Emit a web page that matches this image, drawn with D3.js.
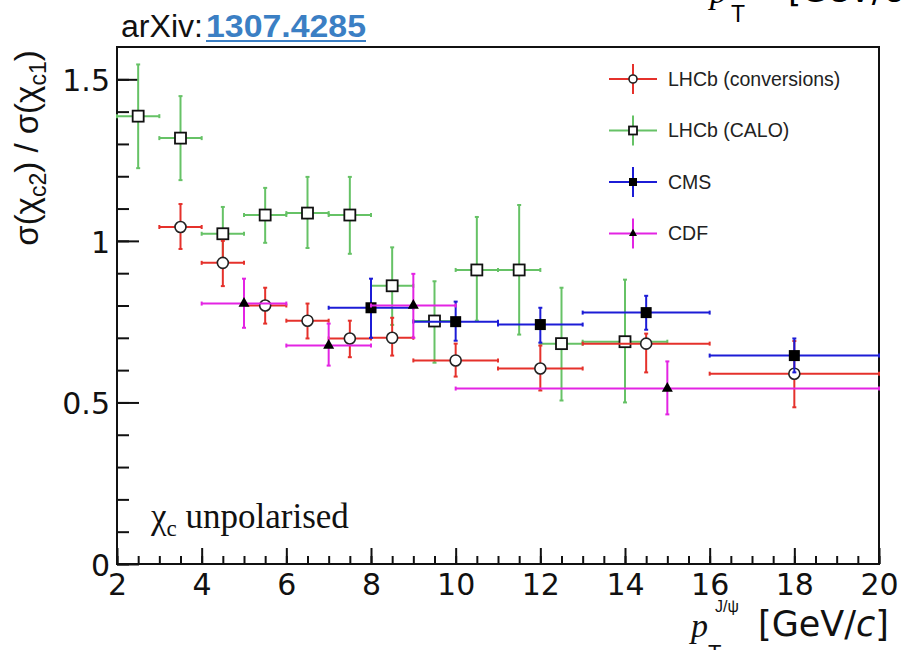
<!DOCTYPE html>
<html>
<head>
<meta charset="utf-8">
<script src="https://d3js.org/d3.v7.min.js"></script>
<style>
  body { margin: 0; background: #fff; }
  svg { display: block; font-family: "Liberation Sans", Arial, sans-serif; }
</style>
</head>
<body>
<svg id="chart" width="903" height="650"></svg>
<script>
  // LHCb conversions (red, open circles)
  const convX   = [3.5, 4.5, 5.5, 6.5, 7.5, 8.5, 10, 12, 14.5, 18];
  const convXLo = [3, 4, 5, 6, 7, 8, 9, 11, 13, 16];
  const convXHi = [4, 5, 6, 7, 8, 9, 11, 13, 16, 20];
  const convY   = [1.043, 0.932, 0.80, 0.753, 0.698, 0.70, 0.630, 0.605, 0.682, 0.589];
  const convYLo = [0.975, 0.86, 0.744, 0.698, 0.64, 0.645, 0.58, 0.537, 0.593, 0.485];
  const convYHi = [1.114, 1.0, 0.855, 0.806, 0.753, 0.762, 0.682, 0.676, 0.713, 0.69];

  // LHCb CALO (green, open squares)
  const caloX   = [2.5, 3.5, 4.5, 5.5, 6.5, 7.5, 8.5, 9.5, 10.5, 11.5, 12.5, 14];
  const caloXLo = [2, 3, 4, 5, 6, 7, 8, 9, 10, 11, 12, 13];
  const caloXHi = [3, 4, 5, 6, 7, 8, 9, 10, 11, 12, 13, 15];
  const caloY   = [1.386, 1.318, 1.022, 1.080, 1.086, 1.080, 0.861, 0.752, 0.910, 0.910, 0.682, 0.688];
  const caloYLo = [1.225, 1.188, 0.94, 0.994, 0.978, 0.96, 0.74, 0.623, 0.753, 0.710, 0.506, 0.50];
  const caloYHi = [1.546, 1.448, 1.105, 1.164, 1.198, 1.198, 0.98, 0.875, 1.074, 1.111, 0.855, 0.880];

  // CMS (blue, filled squares)
  const cmsX   = [8, 10, 12, 14.5, 18];
  const cmsXLo = [7, 9, 11, 13, 16];
  const cmsXHi = [9, 11, 13, 16, 20];
  const cmsY   = [0.793, 0.750, 0.741, 0.778, 0.645];
  const cmsYLo = [0.70, 0.691, 0.685, 0.725, 0.593];
  const cmsYHi = [0.883, 0.812, 0.793, 0.830, 0.698];

  // CDF (magenta, filled triangles)
  const cdfX   = [5, 7, 9, 15];
  const cdfXLo = [4, 6, 8, 10];
  const cdfXHi = [6, 8, 10, 20];
  const cdfY   = [0.806, 0.676, 0.80, 0.543];
  const cdfYLo = [0.731, 0.614, 0.70, 0.463];
  const cdfYHi = [0.883, 0.744, 0.898, 0.627];

  const xMajor = [2, 4, 6, 8, 10, 12, 14, 16, 18, 20];
  const yMajor = [0, 0.5, 1, 1.5];

  const legendNames = ["LHCb (conversions)", "LHCb (CALO)", "CMS", "CDF"];

  function rows(x, xl, xh, y, yl, yh) {
    return x.map((v, i) => ({ x: v, xl: xl[i], xh: xh[i], y: y[i], yl: yl[i], yh: yh[i] }));
  }

  const series = [
    { name: legendNames[1], color: "#66c266", marker: "openSquare", data: rows(caloX, caloXLo, caloXHi, caloY, caloYLo, caloYHi) },
    { name: legendNames[0], color: "#e5312b", marker: "openCircle", data: rows(convX, convXLo, convXHi, convY, convYLo, convYHi) },
    { name: legendNames[2], color: "#1c1cd6", marker: "fillSquare", data: rows(cmsX, cmsXLo, cmsXHi, cmsY, cmsYLo, cmsYHi) },
    { name: legendNames[3], color: "#e324e3", marker: "triangle", data: rows(cdfX, cdfXLo, cdfXHi, cdfY, cdfYLo, cdfYHi) }
  ];

  const padL = 117, padR = 879, padT = 47, padB = 564;
  const serif = "'Liberation Serif', 'DejaVu Serif', serif";
  const wide = "'DejaVu Sans', sans-serif";

  const x = d3.scaleLinear().domain([2, 20]).range([padL, padR]);
  const y = d3.scaleLinear().domain([0, 1.6]).range([padB, padT]);

  const svg = d3.select("#chart");

  // header bits (cut at top of page)
  svg.append("text").attr("x", 121).attr("y", 37).style("font-size", "31px")
    .attr("textLength", 82).attr("lengthAdjust", "spacingAndGlyphs")
    .attr("fill", "#111").text("arXiv:");
  svg.append("text").attr("x", 206).attr("y", 37).style("font-size", "31px")
    .attr("textLength", 160).attr("lengthAdjust", "spacingAndGlyphs")
    .style("font-weight", "bold").attr("fill", "#3b7fc4").text("1307.4285");
  svg.append("line").attr("x1", 206).attr("x2", 366).attr("y1", 41).attr("y2", 41)
    .attr("stroke", "#3b7fc4").attr("stroke-width", 2);
  svg.append("text").attr("x", 710).attr("y", 3).style("font-size", "34px")
    .style("font-style", "italic").style("font-family", serif).text("p");
  svg.append("text").attr("x", 731).attr("y", 22).style("font-size", "23px").text("T");
  svg.append("text").attr("x", 788).attr("y", 2).style("font-size", "34px").style("font-family", wide).text("[GeV/c]");

  // axes
  svg.append("g").attr("transform", `translate(0,${padB})`)
    .call(d3.axisBottom(x).tickValues(d3.range(2, 20.01, 0.5)).tickSize(-8).tickFormat(""));
  svg.append("g").attr("transform", `translate(0,${padB})`)
    .call(d3.axisBottom(x).tickValues(xMajor).tickSize(-16).tickPadding(10).tickFormat(d3.format("d")));

  svg.append("g").attr("transform", `translate(${padL},0)`)
    .call(d3.axisLeft(y).tickValues(d3.range(0, 1.55, 0.1)).tickSize(-12).tickFormat(""));
  const gyMaj = svg.append("g").attr("transform", `translate(${padL},0)`)
    .call(d3.axisLeft(y).tickValues(yMajor).tickSize(-22).tickPadding(7).tickFormat(d => String(d)));

  svg.selectAll(".domain").remove();
  svg.selectAll(".tick line").attr("stroke", "#111").attr("stroke-width", 2);
  svg.selectAll(".tick text").style("font-size", "30px").attr("fill", "#111")
    .style("font-family", wide);
  gyMaj.selectAll(".tick text").attr("dy", "0.38em");

  // frame
  svg.append("rect").attr("x", padL).attr("y", padT)
    .attr("width", padR - padL).attr("height", padB - padT)
    .attr("fill", "none").attr("stroke", "#111").attr("stroke-width", 2);

  // axis titles
  const yl = svg.append("text")
    .attr("transform", "translate(38,148) rotate(-90)")
    .attr("text-anchor", "middle").style("font-size", "33px").attr("fill", "#111");
  yl.append("tspan").text("σ(χ");
  yl.append("tspan").style("font-size", "23px").attr("dy", 8).text("c2");
  yl.append("tspan").attr("dy", -8).text(") / σ(χ");
  yl.append("tspan").style("font-size", "23px").attr("dy", 8).text("c1");
  yl.append("tspan").attr("dy", -8).text(")");

  svg.append("text").attr("x", 691).attr("y", 637).style("font-size", "34px")
    .style("font-style", "italic").style("font-family", serif).attr("fill", "#111").text("p");
  svg.append("text").attr("x", 715).attr("y", 612).style("font-size", "16px")
    .attr("fill", "#111").text("J/ψ");
  svg.append("text").attr("x", 708).attr("y", 660).style("font-size", "22px")
    .attr("fill", "#111").text("T");
  const xl = svg.append("text").attr("x", 758).attr("y", 636)
    .style("font-size", "35px").style("font-family", wide).attr("fill", "#111");
  xl.append("tspan").text("[GeV/");
  xl.append("tspan").style("font-style", "italic").text("c");
  xl.append("tspan").text("]");

  // annotation
  const ann = svg.append("text").attr("x", 151).attr("y", 528)
    .style("font-family", serif).style("font-size", "35px").attr("fill", "#111");
  ann.append("tspan").text("χ");
  ann.append("tspan").style("font-size", "23px").attr("dy", 8).text("c");
  ann.append("tspan").attr("dy", -8).text(" unpolarised");

  // marker drawing
  function drawMarker(g, type, cx, cy, s) {
    if (type === "openCircle") {
      g.append("circle").attr("cx", cx).attr("cy", cy).attr("r", s / 2)
        .attr("fill", "#fff").attr("stroke", "#222").attr("stroke-width", 1.6);
    } else if (type === "openSquare") {
      g.append("rect").attr("x", cx - s / 2).attr("y", cy - s / 2).attr("width", s).attr("height", s)
        .attr("fill", "#fff").attr("stroke", "#111").attr("stroke-width", 1.8);
    } else if (type === "fillSquare") {
      g.append("rect").attr("x", cx - s / 2).attr("y", cy - s / 2).attr("width", s).attr("height", s)
        .attr("fill", "#000");
    } else {
      const h = s * 0.9;
      g.append("path").attr("d", `M${cx - s / 2},${cy + h / 3}L${cx + s / 2},${cy + h / 3}L${cx},${cy - 2 * h / 3}Z`)
        .attr("fill", "#000");
    }
  }

  const cap = 2;
  series.forEach(s => {
    const g = svg.append("g");
    s.data.forEach(d => {
      const px = x(d.x), py = y(d.y);
      const bars = [
        [x(d.xl), py, x(d.xh), py],
        [px, y(d.yl), px, y(d.yh)],
        [x(d.xl), py - cap, x(d.xl), py + cap],
        [x(d.xh), py - cap, x(d.xh), py + cap],
        [px - cap, y(d.yl), px + cap, y(d.yl)],
        [px - cap, y(d.yh), px + cap, y(d.yh)]
      ];
      bars.forEach(b => g.append("line")
        .attr("x1", b[0]).attr("y1", b[1]).attr("x2", b[2]).attr("y2", b[3])
        .attr("stroke", s.color).attr("stroke-width", 2));
    });
    s.data.forEach(d => drawMarker(g, s.marker, x(d.x), y(d.y), 11));
  });

  // legend
  const legendOrder = [1, 0, 2, 3];
  legendOrder.forEach((si, i) => {
    const s = series[si];
    const ly = 79 + i * 51.5, lx = 633;
    const g = svg.append("g");
    g.append("line").attr("x1", lx - 24).attr("x2", lx + 24).attr("y1", ly).attr("y2", ly)
      .attr("stroke", s.color).attr("stroke-width", 2);
    g.append("line").attr("x1", lx).attr("x2", lx).attr("y1", ly - 15).attr("y2", ly + 15)
      .attr("stroke", s.color).attr("stroke-width", 2);
    drawMarker(g, s.marker, lx, ly, 8);
    g.append("text").attr("x", 668).attr("y", ly).attr("dy", "0.35em")
      .style("font-size", "19.5px").attr("fill", "#222").text(s.name);
  });
</script>
</body>
</html>
